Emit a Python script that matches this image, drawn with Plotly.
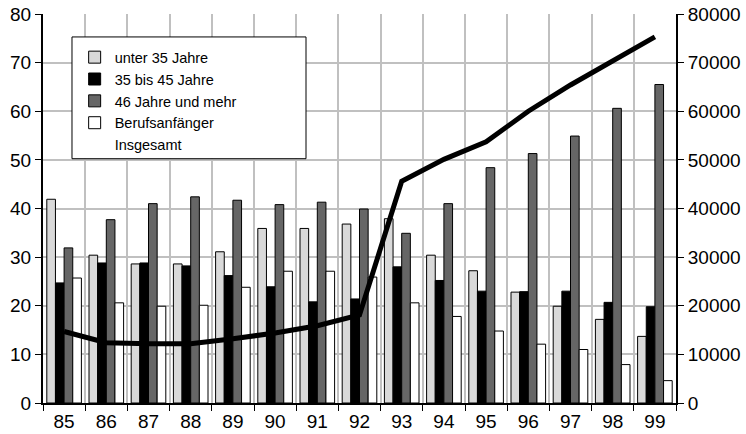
import plotly.graph_objects as go

years = ["85", "86", "87", "88", "89", "90", "91", "92", "93", "94", "95", "96", "97", "98", "99"]
unter35 = [41.9, 30.4, 28.6, 28.6, 31.1, 35.9, 35.9, 36.8, 37.9, 30.4, 27.2, 22.8, 19.9, 17.2, 13.7]
bis45 = [24.7, 28.8, 28.8, 28.2, 26.2, 23.9, 20.8, 21.4, 28.0, 25.2, 23.0, 22.9, 23.0, 20.7, 19.8]
ab46 = [31.9, 37.7, 41.0, 42.4, 41.7, 40.8, 41.3, 39.9, 34.9, 41.0, 48.4, 51.3, 54.9, 60.6, 65.5]
anfaenger = [25.7, 20.6, 19.9, 20.1, 23.8, 27.1, 27.1, 25.9, 20.6, 17.8, 14.8, 12.1, 11.0, 7.9, 4.6]
insgesamt = [14700, 12400, 12200, 12200, 13200, 14400, 15900, 18100, 45600, 50100, 53700, 60000, 65400, 70400, 75300]

font = "Liberation Sans"
fig = go.Figure()
bar_specs = [
    ("unter 35 Jahre", unter35, "#d9d9d9"),
    ("35 bis 45 Jahre", bis45, "#000000"),
    ("46 Jahre und mehr", ab46, "#666666"),
    ("Berufsanfänger", anfaenger, "#ffffff"),
]
for name, vals, col in bar_specs:
    fig.add_trace(go.Bar(x=years, y=vals, name=name, marker=dict(color=col, line=dict(color="black", width=1)), yaxis="y"))

fig.add_trace(go.Scatter(x=years, y=insgesamt, mode="lines", line=dict(color="black", width=5), yaxis="y2", showlegend=False, name="Insgesamt"))
fig.add_trace(go.Scatter(x=[None], y=[None], mode="lines", line=dict(color="rgba(0,0,0,0)", width=0), yaxis="y2", name="Insgesamt"))

# legend frame (white box with black border) behind the legend entries
fig.add_shape(type="rect", xref="paper", yref="paper", x0=0.0458, x1=0.4155, y0=0.628, y1=0.941,
              line=dict(color="black", width=1), fillcolor="white", layer="above")

fig.update_layout(
    template="none",
    width=746, height=434,
    margin=dict(l=43, r=70, t=14, b=31, autoexpand=False),
    plot_bgcolor="white", paper_bgcolor="white",
    barmode="group", bargap=0.18, bargroupgap=0,
    font=dict(family=font, size=19, color="black"),
    showlegend=True,
    legend=dict(x=0.05, y=0.93, xanchor="left", yanchor="top",
                bgcolor="rgba(0,0,0,0)", borderwidth=0,
                font=dict(size=14.5), tracegroupgap=0, itemwidth=30),
    xaxis=dict(type="category", tickson="boundaries", ticks="outside", ticklen=6, tickcolor="black",
               showgrid=True, gridcolor="#c0c0c0", gridwidth=1.5, automargin=False,
               showline=True, linecolor="black", linewidth=2),
    yaxis=dict(range=[0, 80], dtick=10, ticks="outside", ticklen=6, tickcolor="black", automargin=False,
               showgrid=True, gridcolor="#c0c0c0", gridwidth=1.5,
               showline=True, linecolor="black", linewidth=2, zeroline=False),
    yaxis2=dict(range=[0, 80000], dtick=10000, overlaying="y", side="right", ticks="outside", ticklen=6,
                tickcolor="black", showgrid=False, showline=True, linecolor="black", linewidth=2,
                zeroline=False, tickformat="d", automargin=False),
)
fig.write_html("out.html", config={"displayModeBar": False},
               post_script="document.body.style.margin='0';document.body.style.overflow='hidden';")
